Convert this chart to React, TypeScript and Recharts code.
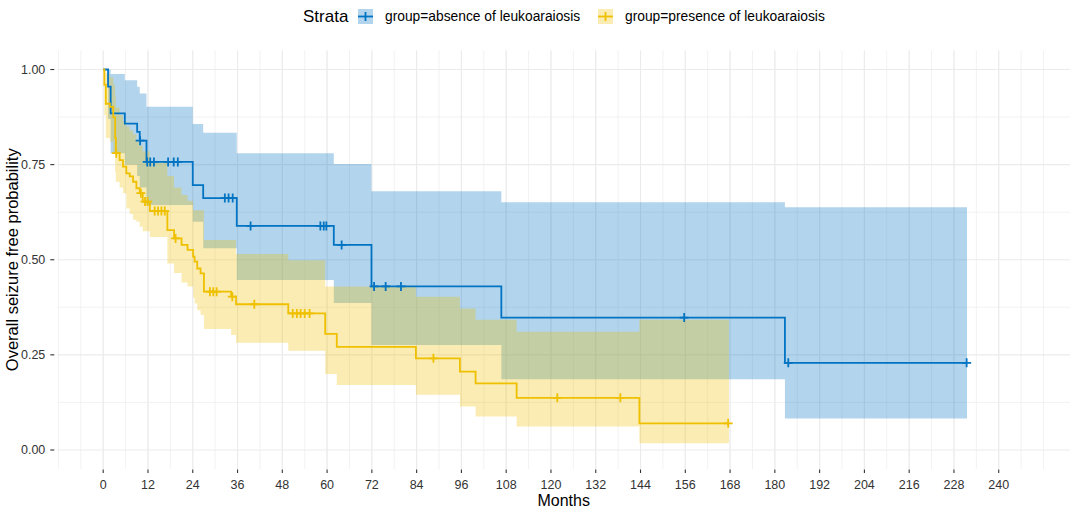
import React from 'react';
import { ComposedChart, CartesianGrid, Area, Line, Scatter, XAxis, YAxis } from 'recharts';

// group=absence of leukoaraiosis (time in months, KM estimate + 95% CI)
const absenceTimes = [0, 1.3, 2.0, 5.8, 9.1, 9.8, 11.6, 24.0, 26.8, 35.8, 61.8, 71.9, 106.7, 182.7, 231.5];
const absenceSurv = [1, 0.955, 0.885, 0.858, 0.836, 0.813, 0.757, 0.696, 0.662, 0.589, 0.539, 0.43, 0.348, 0.229, 0.229];
const absenceUpper = [1, 1, 0.988, 0.972, 0.955, 0.937, 0.902, 0.857, 0.834, 0.78, 0.752, 0.68, 0.651, 0.638, 0.638];
const absenceLower = [1, 0.87, 0.78, 0.75, 0.72, 0.69, 0.644, 0.6, 0.53, 0.447, 0.386, 0.276, 0.186, 0.083, 0.083];
const absenceCensor = [9.9, 11.8, 12.6, 13.6, 17.4, 18.9, 20.0, 32.6, 33.6, 34.7, 39.5, 58.2, 59.1, 59.8, 63.9, 72.6, 75.7, 79.8, 155.7, 183.6, 231.4];

// group=presence of leukoaraiosis
const presenceTimes = [0, 0.3, 0.7, 1.8, 2.7, 3.2, 3.4, 4.4, 5.3, 6.2, 7.1, 8.0, 8.9, 9.8, 10.6, 12.5, 17.2, 19.0, 21.0, 22.6, 24.1, 24.5, 25.2, 26.1, 27.0, 34.3, 35.6, 49.6, 59.5, 62.6, 83.8, 95.6, 99.8, 110.8, 143.7, 167.7];
const presenceSurv = [1, 0.96, 0.91, 0.902, 0.874, 0.82, 0.78, 0.762, 0.745, 0.727, 0.719, 0.705, 0.688, 0.675, 0.653, 0.628, 0.578, 0.556, 0.539, 0.526, 0.508, 0.495, 0.477, 0.464, 0.416, 0.403, 0.383, 0.359, 0.305, 0.271, 0.241, 0.206, 0.175, 0.137, 0.07, 0.07];
const presenceUpper = [1, 1, 0.99, 0.98, 0.96, 0.93, 0.9, 0.88, 0.865, 0.85, 0.84, 0.83, 0.815, 0.8, 0.785, 0.755, 0.72, 0.69, 0.67, 0.655, 0.63, 0.63, 0.63, 0.63, 0.552, 0.552, 0.515, 0.499, 0.43, 0.43, 0.403, 0.372, 0.342, 0.311, 0.342, 0.342];
const presenceLower = [1, 0.88, 0.82, 0.81, 0.78, 0.73, 0.705, 0.69, 0.675, 0.635, 0.62, 0.605, 0.6, 0.587, 0.575, 0.56, 0.49, 0.465, 0.44, 0.43, 0.4, 0.385, 0.367, 0.355, 0.318, 0.302, 0.282, 0.261, 0.2, 0.171, 0.145, 0.114, 0.088, 0.062, 0.018, 0.018];
const presenceCensor = [3.5, 10.1, 11.2, 11.9, 13.8, 14.7, 15.6, 16.5, 19.4, 28.6, 29.5, 30.4, 34.6, 40.5, 50.8, 51.9, 52.9, 54.0, 55.3, 88.5, 121.7, 138.6, 167.5];

const monthTicks = [0, 12, 24, 36, 48, 60, 72, 84, 96, 108, 120, 132, 144, 156, 168, 180, 192, 204, 216, 228, 240];
const probTicks = [0, 0.25, 0.5, 0.75, 1];

const BLUE = '#0073C2';
const YELLOW = '#EFC000';
const FONT = '"Liberation Sans", Arial, sans-serif';

const PLOT_LEFT = 57.3;
const PLOT_BOTTOM = 469;

// minor grid lines, halfway between breaks (ggplot style)
const xMinor: number[] = [];
for (let m = -12; m <= 252; m += 6) xMinor.push(m);
const yMinor = [0.125, 0.375, 0.625, 0.875];

function stepAt(times: number[], surv: number[], t: number) {
  let v = surv[0];
  for (let i = 0; i < times.length; i++) if (times[i] <= t) v = surv[i];
  return v;
}

const toSeries = (times: number[], surv: number[], lo: number[], hi: number[]) =>
  times.map((t, i) => ({ t, s: surv[i], ci: [lo[i], hi[i]] }));

const absenceSeries = toSeries(absenceTimes, absenceSurv, absenceLower, absenceUpper);
const presenceSeries = toSeries(presenceTimes, presenceSurv, presenceLower, presenceUpper);
const absenceMarks = absenceCensor.map((t) => ({ t, s: stepAt(absenceTimes, absenceSurv, t) }));
const presenceMarks = presenceCensor.map((t) => ({ t, s: stepAt(presenceTimes, presenceSurv, t) }));

const cross = (color: string) => (props: any) => {
  const { cx, cy } = props;
  return (
    <path
      d={`M${cx - 4.5},${cy}H${cx + 4.5}M${cx},${cy - 4.5}V${cy + 4.5}`}
      stroke={color}
      strokeWidth={1.8}
      fill="none"
    />
  );
};

const XTick = (props: any) => {
  const { x, payload } = props;
  return (
    <g>
      <line x1={x} x2={x} y1={PLOT_BOTTOM + 0.5} y2={PLOT_BOTTOM + 4} stroke="#333" strokeWidth={1.1} />
      <text x={x} y={PLOT_BOTTOM + 20} textAnchor="middle" fontSize={12.5} fill="#333" fontFamily={FONT}>
        {payload.value}
      </text>
    </g>
  );
};

const YTick = (props: any) => {
  const { y, payload } = props;
  return (
    <g>
      <line x1={PLOT_LEFT - 7} x2={PLOT_LEFT - 3} y1={y} y2={y} stroke="#333" strokeWidth={1.1} />
      <text x={PLOT_LEFT - 12} y={y + 4.5} textAnchor="end" fontSize={12.5} fill="#333" fontFamily={FONT}>
        {payload.value.toFixed(2)}
      </text>
    </g>
  );
};

function LegendKey({ x, color }: { x: number; color: string }) {
  return (
    <g>
      <rect x={x} y={9} width={15} height={15} fill={color} fillOpacity={0.3} />
      <line x1={x} x2={x + 15} y1={16.5} y2={16.5} stroke={color} strokeWidth={1.8} />
      <line x1={x + 7.5} x2={x + 7.5} y1={12} y2={21} stroke={color} strokeWidth={1.8} />
    </g>
  );
}

export default function App() {
  return (
    <div style={{ position: 'absolute', left: 0, top: 0, width: 1084, height: 510, background: '#fff', fontFamily: FONT }}>
      <svg width={1084} height={40} style={{ position: 'absolute', left: 0, top: 0 }}>
        <text x={303} y={22} fontSize={17} fill="#000" fontFamily={FONT}>Strata</text>
        <LegendKey x={358} color={BLUE} />
        <text x={385} y={21} fontSize={13.8} fill="#000" fontFamily={FONT}>group=absence of leukoaraiosis</text>
        <LegendKey x={598} color={YELLOW} />
        <text x={625} y={21} fontSize={13.8} fill="#000" fontFamily={FONT}>group=presence of leukoaraiosis</text>
      </svg>
      <ComposedChart
        width={1084}
        height={510}
        margin={{ top: 50.5, right: 14, left: 0, bottom: 0 }}
        style={{ position: 'absolute', left: 0, top: 0 }}
      >
        <CartesianGrid verticalValues={xMinor} horizontalValues={yMinor} stroke="#EDEDED" strokeWidth={0.7} />
        <CartesianGrid verticalValues={monthTicks} horizontalValues={probTicks} stroke="#EBEBEB" strokeWidth={1.1} />
        <XAxis
          type="number"
          dataKey="t"
          domain={[-12.3, 259.1]}
          allowDataOverflow
          ticks={monthTicks}
          interval={0}
          height={41}
          axisLine={false}
          tickLine={false}
          tick={<XTick />}
          label={{ value: 'Months', position: 'insideBottom', offset: 4, fontSize: 16, fill: '#000', fontFamily: FONT }}
        />
        <YAxis
          type="number"
          domain={[-0.05, 1.05]}
          allowDataOverflow
          ticks={probTicks}
          interval={0}
          width={PLOT_LEFT}
          axisLine={false}
          tickLine={false}
          tick={<YTick />}
          label={{
            value: 'Overall seizure free probability',
            angle: -90,
            position: 'insideLeft',
            offset: 12,
            fontSize: 16.5,
            fill: '#000',
            fontFamily: FONT,
            style: { textAnchor: 'middle' },
          }}
        />
        <Area data={absenceSeries} dataKey="ci" type="stepAfter" stroke="none" fill={BLUE} fillOpacity={0.3} isAnimationActive={false} />
        <Area data={presenceSeries} dataKey="ci" type="stepAfter" stroke="none" fill={YELLOW} fillOpacity={0.3} isAnimationActive={false} />
        <Line data={absenceSeries} dataKey="s" type="stepAfter" stroke={BLUE} strokeWidth={1.8} dot={false} activeDot={false} isAnimationActive={false} />
        <Line data={presenceSeries} dataKey="s" type="stepAfter" stroke={YELLOW} strokeWidth={1.8} dot={false} activeDot={false} isAnimationActive={false} />
        <Scatter data={absenceMarks} dataKey="s" shape={cross(BLUE)} isAnimationActive={false} />
        <Scatter data={presenceMarks} dataKey="s" shape={cross(YELLOW)} isAnimationActive={false} />
      </ComposedChart>
    </div>
  );
}
